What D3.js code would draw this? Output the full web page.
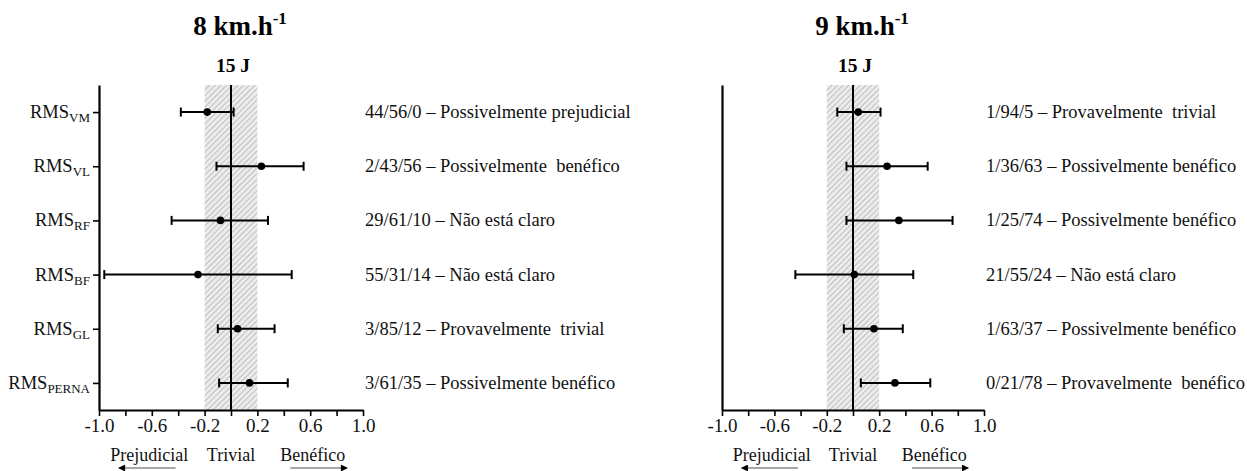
<!DOCTYPE html>
<html>
<head>
<meta charset="utf-8">
<script src="https://cdn.jsdelivr.net/npm/d3@7"></script>
<style>
    body { margin: 0; background: #fff; }
    svg, svg text { font-family: "Liberation Serif", "Times New Roman", serif; }
</style>
</head>
<body>
<svg id="chart" width="1247" height="471"></svg>
<script>
// Data
const muscles = ['VM', 'VL', 'RF', 'BF', 'GL', 'PERNA'];

const mean8 = [-0.18, 0.23, -0.08, -0.25, 0.05, 0.14];
const low8 = [-0.38, -0.11, -0.45, -0.96, -0.10, -0.09];
const high8 = [0.02, 0.55, 0.28, 0.46, 0.33, 0.43];
const notes8 = [
    '44/56/0 – Possivelmente prejudicial',
    '2/43/56 – Possivelmente  benéfico',
    '29/61/10 – Não está claro',
    '55/31/14 – Não está claro',
    '3/85/12 – Provavelmente  trivial',
    '3/61/35 – Possivelmente benéfico'
];

const mean9 = [0.04, 0.26, 0.35, 0.01, 0.16, 0.32];
const low9 = [-0.12, -0.05, -0.05, -0.44, -0.07, 0.06];
const high9 = [0.21, 0.57, 0.76, 0.46, 0.38, 0.59];
const notes9 = [
    '1/94/5 – Provavelmente  trivial',
    '1/36/63 – Possivelmente benéfico',
    '1/25/74 – Possivelmente benéfico',
    '21/55/24 – Não está claro',
    '1/63/37 – Possivelmente benéfico',
    '0/21/78 – Provavelmente  benéfico'
];

const xTicks = [-1.0, -0.8, -0.6, -0.4, -0.2, 0, 0.2, 0.4, 0.6, 0.8, 1.0];
const xLabels = ['-1.0', '', '-0.6', '', '-0.2', '', '0.2', '', '0.6', '', '1.0'];
const trivialZone = [-0.2, 0.2];

const config = {
    top: 85,
    bottom: 410,
    font: '"Liberation Serif", "Times New Roman", serif',
    panels: [
        { speed: '8', left: 99, right: 363, showLabels: true },
        { speed: '9', left: 722, right: 984, showLabels: false }
    ]
};

const svg = d3.select('#chart');

// Hatch pattern for the trivial zone
const defs = svg.append('defs');
const pattern = defs.append('pattern')
    .attr('id', 'hatch')
    .attr('patternUnits', 'userSpaceOnUse')
    .attr('width', 4)
    .attr('height', 4)
    .attr('patternTransform', 'rotate(45)');
pattern.append('rect').attr('width', 4).attr('height', 4).attr('fill', '#ececec');
pattern.append('line')
    .attr('x1', 0).attr('y1', 0).attr('x2', 0).attr('y2', 4)
    .attr('stroke', '#9a9a9a').attr('stroke-width', 1.1);

defs.append('marker')
    .attr('id', 'arrow')
    .attr('viewBox', '0 0 10 10')
    .attr('refX', 9).attr('refY', 5)
    .attr('markerWidth', 8).attr('markerHeight', 7)
    .attr('markerUnits', 'userSpaceOnUse')
    .attr('orient', 'auto')
    .append('path')
    .attr('d', 'M0,0 L10,5 L0,10 Z')
    .attr('fill', '#000');

const y = d3.scalePoint()
    .domain(muscles)
    .range([config.top, config.bottom])
    .padding(0.5);

function drawPanel(panel, means, lows, highs, notes) {
    const x = d3.scaleLinear().domain([-1, 1]).range([panel.left, panel.right]);
    const g = svg.append('g').attr('font-family', config.font);

    // trivial zone
    g.append('rect')
        .attr('x', x(trivialZone[0]))
        .attr('y', config.top)
        .attr('width', x(trivialZone[1]) - x(trivialZone[0]))
        .attr('height', config.bottom - config.top)
        .attr('fill', 'url(#hatch)');

    // zero line
    g.append('line')
        .attr('x1', x(0)).attr('x2', x(0))
        .attr('y1', config.top).attr('y2', config.bottom)
        .attr('stroke', '#000').attr('stroke-width', 2);

    // x axis
    const xAxis = g.append('g')
        .attr('transform', `translate(0,${config.bottom})`)
        .call(d3.axisBottom(x)
            .tickValues(xTicks)
            .tickFormat((d, i) => xLabels[i])
            .tickSize(6)
            .tickSizeOuter(0));
    xAxis.attr('font-family', config.font);
    xAxis.select('.domain').attr('stroke-width', 2.2);
    xAxis.selectAll('.tick line').attr('stroke-width', 1.6);
    xAxis.selectAll('.tick text')
        .attr('font-size', 19)
        .attr('fill', '#111')
        .attr('y', 9);

    // y axis
    const yAxis = g.append('g')
        .attr('transform', `translate(${panel.left},0)`)
        .call(d3.axisLeft(y)
            .tickSize(panel.showLabels ? 6 : 0)
            .tickSizeOuter(0)
            .tickFormat(''));
    yAxis.select('.domain').attr('stroke-width', 2.2);
    yAxis.selectAll('.tick line').attr('stroke-width', 1.6);

    if (panel.showLabels) {
        const lab = g.selectAll('.rowlabel')
            .data(muscles)
            .enter()
            .append('text')
            .attr('x', panel.left - 9)
            .attr('y', d => y(d) + 6)
            .attr('text-anchor', 'end')
            .attr('font-size', 18.5)
            .attr('fill', '#111');
        lab.append('tspan').text('RMS');
        lab.append('tspan')
            .attr('font-size', 13)
            .attr('dy', 4)
            .text(d => d);
    }

    // error bars
    const rows = muscles.map((m, i) => ({ m, mean: means[i], lo: lows[i], hi: highs[i], note: notes[i] }));
    const bars = g.selectAll('.bar').data(rows).enter().append('g');
    bars.append('line')
        .attr('x1', d => x(d.lo)).attr('x2', d => x(d.hi))
        .attr('y1', d => y(d.m)).attr('y2', d => y(d.m))
        .attr('stroke', '#000').attr('stroke-width', 2);
    bars.append('line')
        .attr('x1', d => x(d.lo)).attr('x2', d => x(d.lo))
        .attr('y1', d => y(d.m) - 4.5).attr('y2', d => y(d.m) + 4.5)
        .attr('stroke', '#000').attr('stroke-width', 2);
    bars.append('line')
        .attr('x1', d => x(d.hi)).attr('x2', d => x(d.hi))
        .attr('y1', d => y(d.m) - 4.5).attr('y2', d => y(d.m) + 4.5)
        .attr('stroke', '#000').attr('stroke-width', 2);
    bars.append('circle')
        .attr('cx', d => x(d.mean))
        .attr('cy', d => y(d.m))
        .attr('r', 3.8)
        .attr('fill', '#000');

    // inference notes
    bars.append('text')
        .attr('x', panel.right + 2)
        .attr('y', d => y(d.m) + 6)
        .attr('font-size', 18.5)
        .attr('fill', '#111')
        .style('white-space', 'pre')
        .text(d => d.note);

    // titles
    const title = g.append('text')
        .attr('x', x(0) + 9)
        .attr('y', 35)
        .attr('text-anchor', 'middle')
        .attr('font-size', 27)
        .attr('font-weight', 'bold');
    title.append('tspan').text(`${panel.speed} km.h`);
    title.append('tspan').attr('font-size', 17).attr('dy', -11).text('-1');

    g.append('text')
        .attr('x', x(0) + 2)
        .attr('y', 72)
        .attr('text-anchor', 'middle')
        .attr('font-size', 19.5)
        .attr('font-weight', 'bold')
        .text('15 J');

    // bottom labels and arrows
    const bottom = [
        { label: 'Prejudicial', at: -0.62, from: -0.42, to: -0.85 },
        { label: 'Trivial', at: 0, from: null, to: null },
        { label: 'Benéfico', at: 0.62, from: 0.45, to: 0.88 }
    ];
    bottom.forEach(b => {
        g.append('text')
            .attr('x', x(b.at))
            .attr('y', 461)
            .attr('text-anchor', 'middle')
            .attr('font-size', 18)
            .attr('fill', '#111')
            .text(b.label);
        if (b.from !== null) {
            g.append('line')
                .attr('x1', x(b.from)).attr('x2', x(b.to))
                .attr('y1', 468).attr('y2', 468)
                .attr('stroke', '#888').attr('stroke-width', 1.5)
                .attr('marker-end', 'url(#arrow)');
        }
    });
}

drawPanel(config.panels[0], mean8, low8, high8, notes8);
drawPanel(config.panels[1], mean9, low9, high9, notes9);
</script>
</body>
</html>
